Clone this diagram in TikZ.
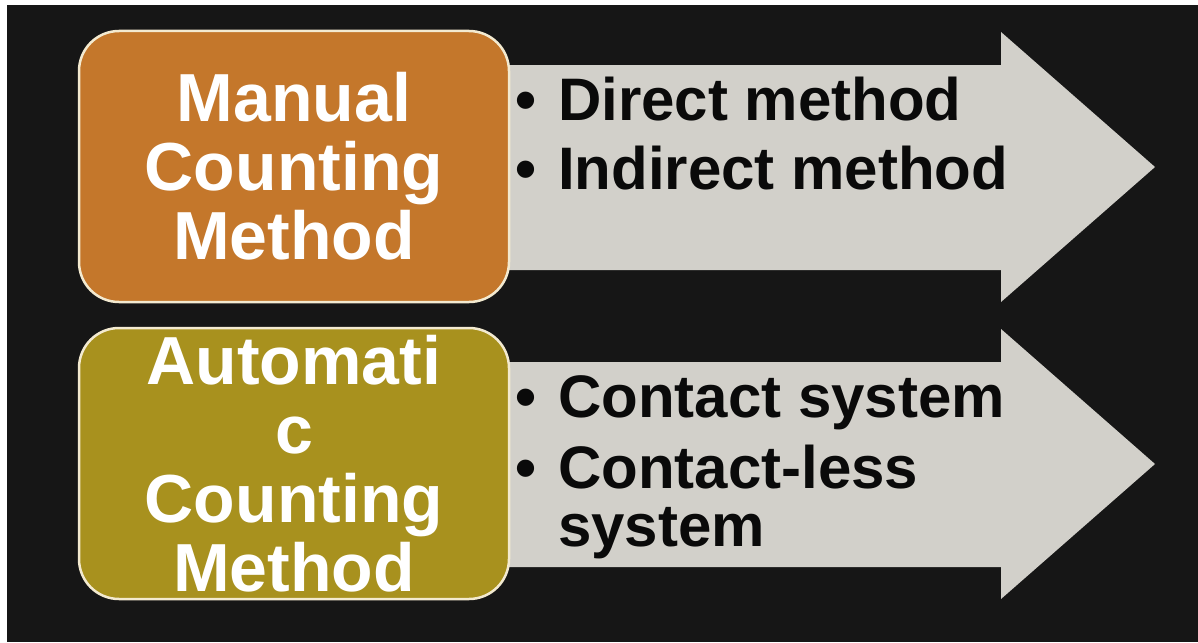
\documentclass[tikz,border=0pt]{standalone}
\usepackage{fontspec}
\setmainfont{Liberation Sans}
\definecolor{slate}{HTML}{161616}
\definecolor{rust}{HTML}{C4772B}
\definecolor{olive}{HTML}{A8911E}
\definecolor{shaft}{HTML}{D2D0CA}
\definecolor{rim}{HTML}{F3EAD0}
\definecolor{ink}{HTML}{0A0A0A}

\begin{document}
\begin{tikzpicture}[x=1pt,y=-1pt,
  panel/.style={rounded corners=40pt, draw=rim, line width=2.5pt,
    minimum width=430pt, minimum height=271pt, inner sep=0pt},
  paneltext/.style={text=white, align=center, inner sep=0pt,
    font=\bfseries\fontsize{68}{69}\selectfont},
  bulletdot/.style={anchor=base west, inner sep=0pt, text=ink,
    font=\bfseries\fontsize{60}{60}\selectfont},
  itemtext/.style={anchor=base west, inner sep=0pt, text=ink,
    font=\bfseries\fontsize{60}{70}\selectfont},
  bigarrow/.style={fill=shaft}]
% page and backdrop
\fill[white] (0,0) rectangle (1198,642);
\fill[slate] (7,5) rectangle (1198,642);
\useasboundingbox (0,0) rectangle (1198,642);

% arrows behind the panels
\fill[bigarrow] (470,65) -- (1001,65) -- (1001,32) -- (1155,167)
  -- (1001,302) -- (1001,270) -- (470,270) -- cycle;
\fill[bigarrow] (470,362) -- (1001,362) -- (1001,329) -- (1155,464)
  -- (1001,599) -- (1001,567) -- (470,567) -- cycle;

% rounded panels
\node[panel, fill=rust] (manual) at (294,166.5) {};
\node[paneltext] (manualtxt) at (manual) {Manual\\Counting\\Method};
\node[panel, fill=olive] (auto) at (294,463.5) {};
\node[paneltext] (autotxt) at (auto) {Automati\\c\\Counting\\Method};

% bullet lists
\node[bulletdot] (b1) at (515,120) {•};
\node[itemtext] (i1) at (558,120) {Direct method};
\node[bulletdot] (b2) at (515,189) {•};
\node[itemtext] (i2) at (558,189) {Indirect method};
\node[bulletdot] (b3) at (515,417) {•};
\node[itemtext] (i3) at (558,417) {Contact system};
\node[bulletdot] (b4) at (515,488) {•};
\node[itemtext] (i4) at (558,488) {Contact-less};
\node[itemtext] (i5) at (558,546) {system};
\end{tikzpicture}
\end{document}
